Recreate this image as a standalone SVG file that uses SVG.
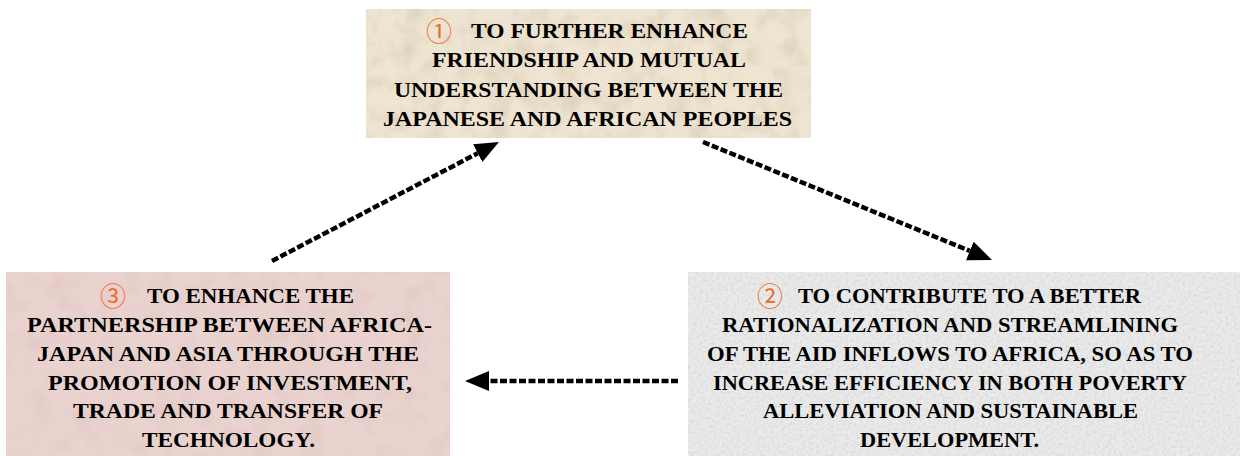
<svg xmlns="http://www.w3.org/2000/svg" width="1240" height="456" viewBox="0 0 1240 456">
<style>
.t{font-family:"Liberation Serif","Times New Roman",serif;font-weight:bold;font-size:22px;fill:#000}
.n{font-family:"Noto Sans CJK JP","Noto Sans",sans-serif;font-size:26px;fill:#EE6A2C}
.c{fill:none;stroke:#000;stroke-width:4.5;stroke-dasharray:7 2.5}
</style>
<defs>
<marker id="ah" markerUnits="userSpaceOnUse" markerWidth="26" markerHeight="22" refX="0" refY="10" orient="auto">
<path d="M0,0 L24,10 L0,20 z" fill="#000"/>
</marker>
<filter id="grainA" x="0" y="0" width="100%" height="100%">
<feTurbulence type="fractalNoise" baseFrequency="0.045" numOctaves="3" seed="4" result="n"/>
<feColorMatrix in="n" type="matrix" values="0 0 0 0 0.45 0 0 0 0 0.35 0 0 0 0 0.2 0.7 0 0 0 -0.3" result="d"/>
<feComposite in="d" in2="SourceGraphic" operator="atop"/>
</filter>
<filter id="grainB" x="0" y="0" width="100%" height="100%">
<feTurbulence type="fractalNoise" baseFrequency="0.04" numOctaves="3" seed="9" result="n"/>
<feColorMatrix in="n" type="matrix" values="0 0 0 0 0.6 0 0 0 0 0.4 0 0 0 0 0.4 0.6 0 0 0 -0.26" result="d"/>
<feComposite in="d" in2="SourceGraphic" operator="atop"/>
</filter>
<filter id="grainC" x="0" y="0" width="100%" height="100%">
<feTurbulence type="fractalNoise" baseFrequency="0.35" numOctaves="2" seed="2" result="n"/>
<feColorMatrix in="n" type="matrix" values="0 0 0 0 0.55 0 0 0 0 0.55 0 0 0 0 0.55 1.0 0 0 0 -0.4" result="d"/>
<feComposite in="d" in2="SourceGraphic" operator="atop"/>
</filter>
</defs>
<rect width="1240" height="456" fill="#fff"/>
<g id="node1">
<rect x="366" y="9" width="445" height="129" fill="#EEE4D1" filter="url(#grainA)"/>
<text class="n" x="426" y="41">①</text>
<text class="t" x="471" y="38" textLength="277" lengthAdjust="spacingAndGlyphs">TO FURTHER ENHANCE</text>
<text class="t" x="432" y="67" textLength="314" lengthAdjust="spacingAndGlyphs">FRIENDSHIP AND MUTUAL</text>
<text class="t" x="394" y="97" textLength="389" lengthAdjust="spacingAndGlyphs">UNDERSTANDING BETWEEN THE</text>
<text class="t" x="383" y="126" textLength="409" lengthAdjust="spacingAndGlyphs">JAPANESE AND AFRICAN PEOPLES</text>
</g>
<g id="node2">
<rect x="688" y="272" width="552" height="184" fill="#EAEAEA" filter="url(#grainC)"/>
<text class="n" x="757" y="306">②</text>
<text class="t" x="798" y="303" textLength="343" lengthAdjust="spacingAndGlyphs">TO CONTRIBUTE TO A BETTER</text>
<text class="t" x="722" y="331.5" textLength="456" lengthAdjust="spacingAndGlyphs">RATIONALIZATION AND STREAMLINING</text>
<text class="t" x="707" y="360.5" textLength="486" lengthAdjust="spacingAndGlyphs">OF THE AID INFLOWS TO AFRICA, SO AS TO</text>
<text class="t" x="713" y="389.5" textLength="474" lengthAdjust="spacingAndGlyphs">INCREASE EFFICIENCY IN BOTH POVERTY</text>
<text class="t" x="763" y="418" textLength="375" lengthAdjust="spacingAndGlyphs">ALLEVIATION AND SUSTAINABLE</text>
<text class="t" x="860" y="447" textLength="179" lengthAdjust="spacingAndGlyphs">DEVELOPMENT.</text>
</g>
<g id="node3">
<rect x="6" y="272" width="444" height="184" fill="#EAD3CF" filter="url(#grainB)"/>
<text class="n" x="100" y="306">③</text>
<text class="t" x="147" y="303" textLength="207" lengthAdjust="spacingAndGlyphs">TO ENHANCE THE</text>
<text class="t" x="27" y="331.5" textLength="405" lengthAdjust="spacingAndGlyphs">PARTNERSHIP BETWEEN AFRICA-</text>
<text class="t" x="37" y="360.5" textLength="382" lengthAdjust="spacingAndGlyphs">JAPAN AND ASIA THROUGH THE</text>
<text class="t" x="48" y="389.5" textLength="364" lengthAdjust="spacingAndGlyphs">PROMOTION OF INVESTMENT,</text>
<text class="t" x="73" y="418" textLength="310" lengthAdjust="spacingAndGlyphs">TRADE AND TRANSFER OF</text>
<text class="t" x="142" y="447" textLength="173" lengthAdjust="spacingAndGlyphs">TECHNOLOGY.</text>
</g>
<g id="connectors">
<line class="c" x1="272" y1="261" x2="477.7" y2="153.2" marker-end="url(#ah)"/>
<line class="c" x1="703" y1="142" x2="969.8" y2="250.9" marker-end="url(#ah)"/>
<line class="c" x1="678" y1="381" x2="489" y2="381" marker-end="url(#ah)"/>
</g>
</svg>
